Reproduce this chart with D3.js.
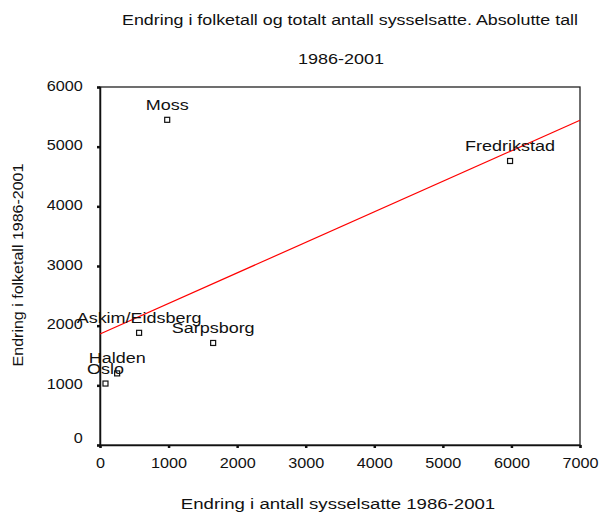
<!DOCTYPE html>
<html>
<head>
<meta charset="utf-8">
<script src="https://cdn.jsdelivr.net/npm/d3@7"></script>
<style>
  body { margin: 0; background: #fff; }
  svg text { font-family: "Liberation Sans", Arial, sans-serif; fill: #111; }
</style>
</head>
<body>
<svg id="chart" width="601" height="515"></svg>
<script>
// kommuner, endring i sysselsatte (x) og folketall (y), 1986-2001
const places = ['Moss', 'Fredrikstad', 'Askim/Eidsberg', 'Sarpsborg', 'Halden', 'Oslo'];
const jobs = [980, 5980, 570, 1650, 250, 80];
const pop = [5450, 4760, 1880, 1710, 1200, 1030];
const xTicks = [0, 1000, 2000, 3000, 4000, 5000, 6000, 7000];
const yTicks = [0, 1000, 2000, 3000, 4000, 5000, 6000];

const svg = d3.select('#chart');
const mLeft = 100, mRight = 580, mTop = 87, mBottom = 445;
const stretch = 1.2; // text in the original is a bit wide

const x = d3.scaleLinear().domain([0, 7000]).range([mLeft, mRight]);
const y = d3.scaleLinear().domain([0, 6000]).range([mBottom, mTop]);

function wideText(px, py, str, rot) {
  return svg.append('text')
    .attr('transform', `translate(${px},${py})` + (rot ? ` rotate(${rot})` : '') + ` scale(${stretch},1)`)
    .attr('text-anchor', 'middle').attr('font-size', 15)
    .text(str);
}

// titles
wideText(350, 25, 'Endring i folketall og totalt antall sysselsatte. Absolutte tall')
  .attr('textLength', 380).attr('lengthAdjust', 'spacingAndGlyphs');
wideText(341, 64, '1986-2001');

// frame
svg.append('rect').attr('x', mLeft).attr('y', mTop)
  .attr('width', mRight - mLeft).attr('height', mBottom - mTop)
  .attr('fill', 'none').attr('stroke', '#222').attr('stroke-width', 1.3);

const yAxis = svg.append('g').attr('transform', `translate(${mLeft},0)`)
  .call(d3.axisLeft(y).tickValues(yTicks).tickSize(3).tickPadding(13).tickFormat(d3.format('d')));
const xAxis = svg.append('g').attr('transform', `translate(0,${mBottom})`)
  .call(d3.axisBottom(x).tickValues(xTicks).tickSize(3).tickPadding(9).tickFormat(d3.format('d')));
[xAxis, yAxis].forEach(a => {
  a.select('.domain').attr('stroke', '#111').attr('stroke-width', 1.5);
  a.selectAll('.tick line').attr('stroke', '#111').attr('stroke-width', 2.5);
  a.selectAll('.tick text').attr('font-size', 15).attr('fill', '#111')
    .attr('font-family', '"Liberation Sans", Arial, sans-serif')
    .attr('transform', 'scale(1.08,1)');
});
yAxis.selectAll('.tick text').attr('dy', '0.2em');
yAxis.select('.tick text').attr('dy', '-0.15em');

// axis titles
wideText(338, 509, 'Endring i antall sysselsatte 1986-2001')
  .attr('textLength', 262).attr('lengthAdjust', 'spacingAndGlyphs');
wideText(23, 265, 'Endring i folketall 1986-2001', -90)
  .attr('textLength', 169).attr('lengthAdjust', 'spacingAndGlyphs');

// linear fit (OLS)
const mx = d3.mean(jobs), my = d3.mean(pop);
const slope = d3.sum(jobs, (v, i) => (v - mx) * (pop[i] - my)) / d3.sum(jobs, v => (v - mx) ** 2);
const icpt = my - slope * mx;
svg.append('line')
  .attr('x1', x(0)).attr('y1', y(icpt))
  .attr('x2', x(7000)).attr('y2', y(icpt + slope * 7000))
  .attr('stroke', '#ff0000').attr('stroke-width', 1.2);

// points and labels
const pts = places.map((p, i) => ({ name: p, jx: jobs[i], py: pop[i] }));
svg.selectAll('rect.pt').data(pts).enter().append('rect')
  .attr('class', 'pt')
  .attr('x', d => x(d.jx) - 2.5).attr('y', d => y(d.py) - 2.5)
  .attr('width', 5).attr('height', 5)
  .attr('fill', '#fff').attr('stroke', '#111').attr('stroke-width', 1.2);
pts.forEach(d => wideText(x(d.jx), y(d.py) - 10, d.name));
</script>
</body>
</html>
